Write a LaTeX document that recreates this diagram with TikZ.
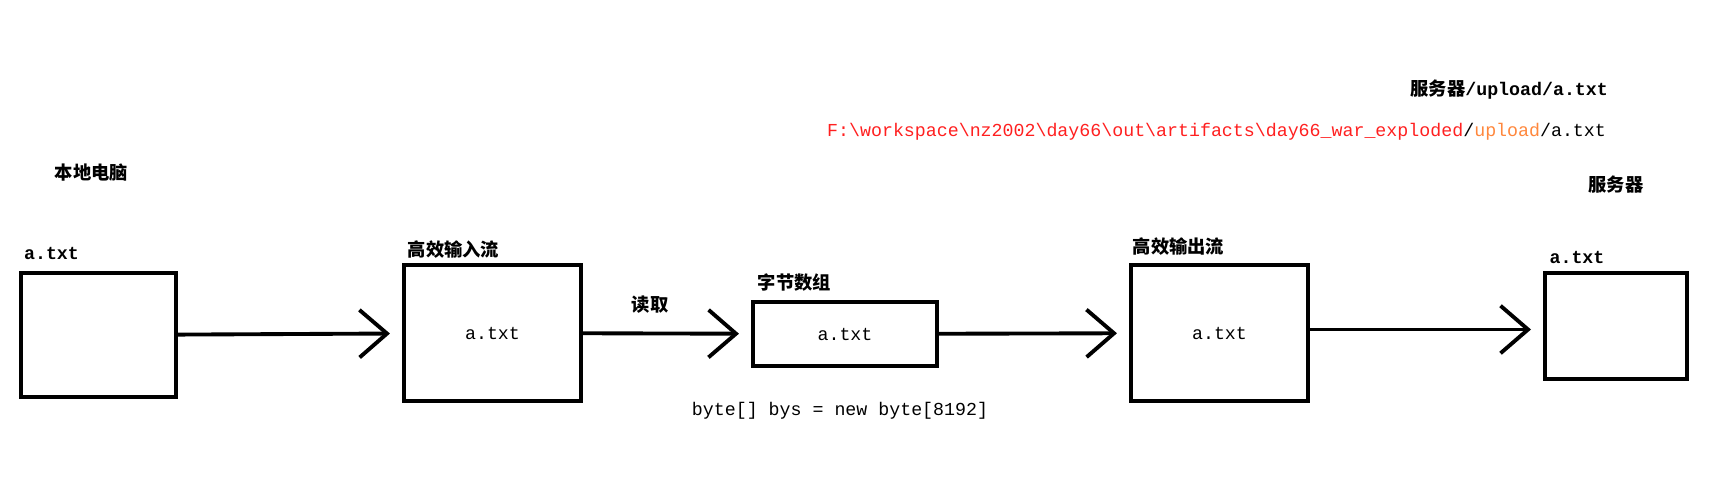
\documentclass[tikz,border=0pt]{standalone}
\usepackage{fontspec}
\setmainfont{Liberation Mono}
\newfontfamily\cjk{Noto Sans CJK SC}
\usetikzlibrary{arrows.meta,positioning}
\definecolor{ink}{RGB}{0,0,0}
\definecolor{pathred}{RGB}{255,32,32}
\definecolor{uporange}{RGB}{255,135,60}
\tikzset{
  >={Straight Barb[length=5.5mm,width=9.5mm]},
  filebox/.style={draw=ink,line width=2.3pt,inner sep=0pt,
    font=\fontsize{10.4}{12}\selectfont,text=ink},
  tag/.style={font=\fontsize{10.4}{12}\selectfont\bfseries,text=ink,inner sep=1pt},
  note/.style={font=\fontsize{10.4}{12}\selectfont,text=ink,inner sep=1pt},
  flow/.style={->,line width=2.2pt,draw=ink,shorten >=0.24cm},
}

\begin{document}
\begin{tikzpicture}
  \useasboundingbox (0,0) rectangle (34.38,9.86);
  % local pc, buffered streams, server
  \node[filebox,minimum width=3.10cm,minimum height=2.48cm] (local) at (1.97,3.16) {};
  \node[filebox,minimum width=3.54cm,minimum height=2.72cm] (instream) at (9.85,3.20) {a.txt};
  \node[filebox,minimum width=3.68cm,minimum height=1.28cm] (bytes) at (16.90,3.18) {a.txt};
  \node[filebox,minimum width=3.54cm,minimum height=2.72cm] (outstream) at (24.39,3.20) {a.txt};
  \node[filebox,minimum width=2.84cm,minimum height=2.12cm] (server) at (32.32,3.34) {};

  \node[tag] (pcname) at (1.83,6.40) {\cjk\bfseries 本地电脑};
  \node[tag] (localfile) at (1.03,4.80) {a.txt};
  \node[tag] (inname) at (9.07,4.86) {\cjk\bfseries 高效输入流};
  \node[tag] (bytesname) at (15.89,4.20) {\cjk\bfseries 字节数组};
  \node[note] (bufdecl) at (16.80,1.64) {byte[] bys = new byte[8192]};
  \node[tag] (outname) at (23.57,4.92) {\cjk\bfseries 高效输出流};
  \node[tag] (srvname) at (32.32,6.16) {\cjk\bfseries 服务器};
  \node[tag] (srvfile) at (31.54,4.72) {a.txt};
  \node[tag,anchor=east] (srvpath) at (32.20,8.06) {{\cjk\bfseries 服务器}/upload/a.txt};
  \node[note,anchor=east] (diskpath) at (32.16,7.22)
    {\textcolor{pathred}{F:\textbackslash workspace\textbackslash nz2002\textbackslash day66\textbackslash out\textbackslash artifacts\textbackslash day66\_war\_exploded}/\textcolor{uporange}{upload}/a.txt};

  \draw[flow] (local) -- (instream);
  \draw[flow] (instream) -- node[tag,pos=0.4,above=0.32cm] (readlbl) {\cjk\bfseries 读取} (bytes);
  \draw[flow] (bytes) -- (outstream);
  \draw[flow] ([yshift=0.07cm]outstream.east) -- ([yshift=0.07cm]outstream.east -| server.west);
\end{tikzpicture}
\end{document}
